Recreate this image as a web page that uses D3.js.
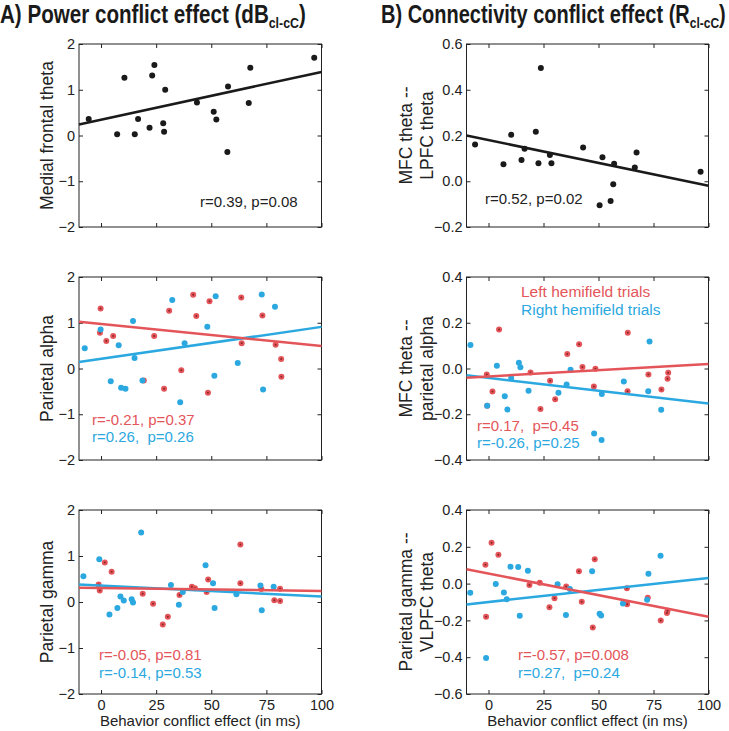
<!DOCTYPE html>
<html><head><meta charset="utf-8">
<script src="https://cdn.jsdelivr.net/npm/d3@7"></script>
<style>
body{margin:0;background:#fff;}
svg{display:block;font-family:"Liberation Sans",Arial,sans-serif;}
</style></head><body>
<svg id="chart" width="729" height="731"></svg>
<script>
// ---------- DATA ----------
const xTicks = [0, 25, 50, 75, 100];
const powerTicks = [-2, -1, 0, 1, 2];
const connTicksTop = [-0.2, 0, 0.2, 0.4, 0.6];
const connTicksMid = [-0.4, -0.2, 0, 0.2, 0.4];
const connTicksBot = [-0.6, -0.4, -0.2, 0, 0.2, 0.4];

const titleA = ["A) Power conflict effect (dB", "cl-cC", ")"];
const titleB = ["B) Connectivity conflict effect (R", "cl-cC", ")"];
const xAxisLabel = "Behavior conflict effect (in ms)";
const legendLabels = ["Left hemifield trials", "Right hemifield trials"];

// A1: Medial frontal theta
const a1X = [-5.6, 7.3, 10.6, 15.3, 16.8, 22.0, 23.2, 24.2, 28.2, 28.6, 29.1, 43.5, 51.1, 52.3, 57.3, 57.6, 67.0, 67.7, 96.7];
const a1Y = [0.36, 0.03, 1.26, 0.03, 0.36, 0.17, 1.31, 1.54, 0.27, 0.08, 1.00, 0.72, 0.52, 0.35, -0.36, 1.07, 0.71, 1.48, 1.70];
const a1Fit = [[-10, 0.24], [100, 1.39]];

// B1: MFC theta -- LPFC theta
const b1X = [-6.1, 6.8, 10.3, 15.0, 16.4, 21.5, 22.7, 23.8, 27.9, 28.6, 43.0, 50.5, 51.8, 55.5, 56.7, 57.1, 66.5, 67.3, 96.4];
const b1Y = [0.161, 0.074, 0.203, 0.093, 0.142, 0.216, 0.079, 0.495, 0.115, 0.079, 0.147, -0.105, 0.105, -0.086, -0.013, 0.076, 0.060, 0.126, 0.042];
const b1Fit = [[-10, 0.20], [100, -0.02]];

// A2: Parietal alpha
const a2RedX = [-0.2, -0.5, 2.4, 5.5, 19.4, 24.1, 28.6, 30.9, 36.4, 41.8, 43.2, 48.5, 49.2, 63.6, 63.8, 73.2, 79.2, 81.7, 81.8];
const a2RedY = [1.31, 0.78, 0.60, 0.71, -0.26, 0.71, -0.44, 1.26, -0.04, 1.61, 1.15, -0.53, 1.47, 1.55, 0.55, 1.16, 0.52, 0.21, -0.18];
const a2BlueX = [-7.4, -0.2, 4.4, 8.0, 9.1, 11.1, 14.5, 15.2, 18.8, 32.3, 35.9, 37.9, 48.2, 51.4, 52.0, 62.0, 72.9, 73.5, 78.9];
const a2BlueY = [0.44, 0.85, -0.28, 0.51, -0.42, -0.44, 1.04, 0.23, -0.26, 1.50, -0.74, 0.55, 0.91, -0.16, 1.58, 0.12, 1.62, -0.46, 1.35];
const a2RedFit = [[-10, 1.02], [100, 0.49]];
const a2BlueFit = [[-10, 0.14], [100, 0.91]];

// B2: MFC theta -- parietal alpha
const b2RedX = [-0.8, -0.6, 1.8, 4.8, 19.1, 23.6, 28.0, 30.3, 35.8, 41.2, 42.7, 47.9, 48.6, 63.2, 63.3, 72.7, 78.6, 81.4, 81.7];
const b2RedY = [-0.026, -0.163, -0.100, 0.170, -0.017, -0.177, -0.054, -0.134, 0.063, 0.106, 0.007, -0.079, -0.001, -0.099, 0.156, -0.026, -0.092, -0.045, -0.019];
const b2BlueX = [-8.2, -0.6, 3.8, 7.4, 8.6, 10.3, 13.8, 14.5, 18.2, 31.8, 35.5, 37.3, 48.0, 51.4, 51.5, 61.5, 72.6, 73.2, 78.5];
const b2BlueY = [0.103, -0.163, 0.012, -0.121, -0.179, -0.042, 0.025, 0.006, -0.097, -0.106, -0.070, -0.006, -0.284, -0.313, -0.111, -0.057, -0.099, 0.118, -0.180];
const b2RedFit = [[-10, -0.04], [100, 0.02]];
const b2BlueFit = [[-10, -0.03], [100, -0.153]];

// A3: Parietal gamma
const a3RedX = [-1.1, -0.6, 1.7, 4.8, 18.9, 23.6, 28.0, 30.3, 35.6, 41.2, 42.6, 47.9, 48.6, 63.2, 63.2, 72.7, 78.6, 81.2, 81.2];
const a3RedY = [0.38, 0.25, 0.86, 0.66, 0.18, -0.04, -0.49, -0.32, 0.15, 0.33, 0.30, 0.22, 0.49, 1.25, 0.41, 0.28, 0.04, 0.29, 0.02];
const a3BlueX = [-8.0, -0.8, 3.8, 7.4, 8.8, 10.3, 13.9, 14.5, 18.2, 31.7, 35.3, 37.1, 47.4, 50.8, 51.5, 61.4, 72.3, 72.9, 78.3];
const a3BlueY = [0.56, 0.93, -0.27, -0.13, 0.12, 0.03, 0.06, -0.01, 1.51, 0.37, -0.06, 0.22, 0.80, 0.41, -0.13, 0.17, 0.36, -0.18, 0.33];
const a3RedFit = [[-10, 0.31], [100, 0.24]];
const a3BlueFit = [[-10, 0.38], [100, 0.12]];

// B3: Parietal gamma -- VLPFC theta
const b3RedX = [-1.4, -1.1, 1.4, 4.5, 18.6, 23.3, 27.7, 30.0, 35.3, 41.1, 42.4, 47.4, 48.3, 62.9, 63.0, 72.4, 78.3, 81.1, 81.4];
const b3RedY = [0.103, -0.180, 0.222, 0.157, -0.007, 0.004, -0.128, -0.079, -0.016, 0.067, -0.099, -0.238, 0.133, -0.025, -0.112, -0.077, -0.200, -0.160, -0.148];
const b3BlueX = [-8.3, -1.1, 3.3, 7.0, 8.3, 10.0, 13.5, 14.2, 17.9, 31.4, 35.2, 37.0, 47.1, 50.5, 51.2, 61.1, 72.1, 72.7, 78.2];
const b3BlueY = [-0.050, -0.404, -0.002, -0.049, -0.085, 0.092, 0.090, -0.175, 0.070, -0.004, -0.171, -0.029, 0.067, -0.164, -0.173, -0.108, -0.088, 0.054, 0.151];
const b3RedFit = [[-10, 0.078], [100, -0.18]];
const b3BlueFit = [[-10, -0.113], [100, 0.031]];

// ---------- STYLE / LAYOUT ----------
const RED = "#e4555a", BLUE = "#2ba8e0", BLACK = "#1a1a1a";
const svg = d3.select("#chart");
svg.append("rect").attr("width", 729).attr("height", 731).attr("fill", "#fff");

const colL = {x0: 79, x1: 321.5}, colR = {x0: 466.5, x1: 708.5};
const rows = [{y0: 44, y1: 227}, {y0: 277, y1: 460}, {y0: 510, y1: 694}];
const fmtPow = d => d < 0 ? "\u2212" + Math.abs(d) : String(d);
const fmtConn = d => { const s = Math.abs(d).toFixed(1); return (d < -1e-9 ? "\u2212" : "") + s; };
const zip = (xs, ys) => xs.map((x, i) => [x, ys[i]]);

function panel(cfg) {
  const x = d3.scaleLinear().domain([-10, 100]).range([cfg.col.x0, cfg.col.x1]);
  const y = d3.scaleLinear().domain(cfg.yDomain).range([cfg.row.y1, cfg.row.y0]);
  const g = svg.append("g");
  const tk = 4;
  const ax = (sel) => { sel.select(".domain").remove(); sel.selectAll("line").attr("stroke", "#222"); sel.selectAll("text").attr("fill", "#222").style("font-size", "14.5px").style("font-family", "inherit"); };
  g.append("g").attr("transform", `translate(${cfg.col.x0},0)`)
    .call(d3.axisLeft(y).tickValues(cfg.yTicks).tickFormat(cfg.fmt).tickSize(-tk).tickPadding(4)).call(ax);
  g.append("g").attr("transform", `translate(${cfg.col.x1},0)`)
    .call(d3.axisRight(y).tickValues(cfg.yTicks).tickFormat("").tickSize(-tk)).call(ax);
  g.append("g").attr("transform", `translate(0,${cfg.row.y0})`)
    .call(d3.axisTop(x).tickValues(xTicks).tickFormat("").tickSize(-tk)).call(ax);
  g.append("g").attr("transform", `translate(0,${cfg.row.y1})`)
    .call(d3.axisBottom(x).tickValues(xTicks).tickFormat(cfg.xLabels ? d3.format("d") : "").tickSize(-tk).tickPadding(6)).call(ax);
  g.append("rect").attr("x", cfg.col.x0).attr("y", cfg.row.y0)
    .attr("width", cfg.col.x1 - cfg.col.x0).attr("height", cfg.row.y1 - cfg.row.y0)
    .attr("fill", "none").attr("stroke", "#222").attr("stroke-width", 1);

  cfg.series.forEach(s => {
    const pts = zip(s.x, s.y);
    g.append("g").selectAll("circle").data(pts).join("circle")
      .attr("cx", d => x(d[0])).attr("cy", d => y(d[1])).attr("r", 3).attr("fill", s.color);
    if (s.dot) {
      g.append("g").selectAll("circle").data(pts).join("circle")
        .attr("cx", d => x(d[0])).attr("cy", d => y(d[1])).attr("r", 1).attr("fill", "#8a2528");
    }
  });
  const line = d3.line().x(d => x(d[0])).y(d => y(d[1]));
  cfg.fits.forEach(f => {
    g.append("path").attr("d", line(f.pts)).attr("stroke", f.color).attr("stroke-width", 2.5).attr("fill", "none");
  });
  const cy = (cfg.row.y0 + cfg.row.y1) / 2;
  cfg.ylab.forEach((t, i) => {
    svg.append("text").attr("transform", `translate(${cfg.ylabX[i]},${cy}) rotate(-90)`)
      .attr("text-anchor", "middle").style("font-size", "17.5px").attr("fill", "#222").text(t);
  });
  (cfg.notes || []).forEach(n => {
    svg.append("text").attr("x", n.x).attr("y", n.y).attr("fill", n.color)
      .style("font-size", (n.size || 15) + "px").attr("xml:space", "preserve").style("white-space", "pre").text(n.t);
  });
  if (cfg.xLabels) {
    svg.append("text").attr("x", (cfg.col.x0 + cfg.col.x1) / 2).attr("y", 726)
      .attr("text-anchor", "middle").style("font-size", "15px").attr("fill", "#222").text(xAxisLabel);
  }
}

// Titles: bold face, compressed horizontally to mimic a condensed bold
function title(parts, x, targetWidth) {
  const g = svg.append("g");
  const t = g.append("text").attr("x", 0).attr("y", 0)
    .style("font-family", "'Liberation Sans',Arial,sans-serif")
    .style("font-weight", "bold").style("font-size", "25px").attr("fill", "#1a1a1a");
  t.append("tspan").text(parts[0]);
  t.append("tspan").attr("dy", 5).style("font-size", "15px").text(parts[1]);
  t.append("tspan").attr("dy", -5).text(parts[2]);
  const w = t.node().getComputedTextLength();
  g.attr("transform", `translate(${x},23) scale(${targetWidth / w},1)`);
}
title(titleA, 0, 306);
title(titleB, 381, 345);

panel({col: colL, row: rows[0], yDomain: [-2, 2], yTicks: powerTicks, fmt: fmtPow,
  series: [{x: a1X, y: a1Y, color: BLACK}], fits: [{pts: a1Fit, color: BLACK}],
  ylab: ["Medial frontal theta"], ylabX: [53],
  notes: [{x: 200, y: 207, t: "r=0.39, p=0.08", color: "#222"}]});
panel({col: colR, row: rows[0], yDomain: [-0.2, 0.6], yTicks: connTicksTop, fmt: fmtConn,
  series: [{x: b1X, y: b1Y, color: BLACK}], fits: [{pts: b1Fit, color: BLACK}],
  ylab: ["MFC theta --", "LPFC theta"], ylabX: [412, 433],
  notes: [{x: 485, y: 203.5, t: "r=0.52, p=0.02", color: "#222"}]});

panel({col: colL, row: rows[1], yDomain: [-2, 2], yTicks: powerTicks, fmt: fmtPow,
  series: [{x: a2RedX, y: a2RedY, color: RED, dot: true}, {x: a2BlueX, y: a2BlueY, color: BLUE}],
  fits: [{pts: a2BlueFit, color: BLUE}, {pts: a2RedFit, color: RED}],
  ylab: ["Parietal alpha"], ylabX: [53],
  notes: [{x: 92, y: 424.5, t: "r=-0.21, p=0.37", color: RED}, {x: 92, y: 442, t: "r=0.26,  p=0.26", color: BLUE}]});
panel({col: colR, row: rows[1], yDomain: [-0.4, 0.4], yTicks: connTicksMid, fmt: fmtConn,
  series: [{x: b2RedX, y: b2RedY, color: RED, dot: true}, {x: b2BlueX, y: b2BlueY, color: BLUE}],
  fits: [{pts: b2BlueFit, color: BLUE}, {pts: b2RedFit, color: RED}],
  ylab: ["MFC theta --", "parietal alpha"], ylabX: [412, 433],
  notes: [{x: 521, y: 297, t: legendLabels[0], color: RED, size: 15.5}, {x: 521, y: 314.5, t: legendLabels[1], color: BLUE, size: 15.5},
          {x: 477, y: 430.5, t: "r=0.17,  p=0.45", color: RED}, {x: 477, y: 448, t: "r=-0.26, p=0.25", color: BLUE}]});

panel({col: colL, row: rows[2], yDomain: [-2, 2], yTicks: powerTicks, fmt: fmtPow, xLabels: true,
  series: [{x: a3RedX, y: a3RedY, color: RED, dot: true}, {x: a3BlueX, y: a3BlueY, color: BLUE}],
  fits: [{pts: a3BlueFit, color: BLUE}, {pts: a3RedFit, color: RED}],
  ylab: ["Parietal gamma"], ylabX: [53],
  notes: [{x: 99, y: 660, t: "r=-0.05, p=0.81", color: RED}, {x: 99, y: 677.5, t: "r=-0.14, p=0.53", color: BLUE}]});
panel({col: colR, row: rows[2], yDomain: [-0.6, 0.4], yTicks: connTicksBot, fmt: fmtConn, xLabels: true,
  series: [{x: b3RedX, y: b3RedY, color: RED, dot: true}, {x: b3BlueX, y: b3BlueY, color: BLUE}],
  fits: [{pts: b3BlueFit, color: BLUE}, {pts: b3RedFit, color: RED}],
  ylab: ["Parietal gamma --", "VLPFC theta"], ylabX: [412, 433],
  notes: [{x: 518, y: 660, t: "r=-0.57, p=0.008", color: RED}, {x: 518, y: 677.5, t: "r=0.27,  p=0.24", color: BLUE}]});
</script>
</body></html>
